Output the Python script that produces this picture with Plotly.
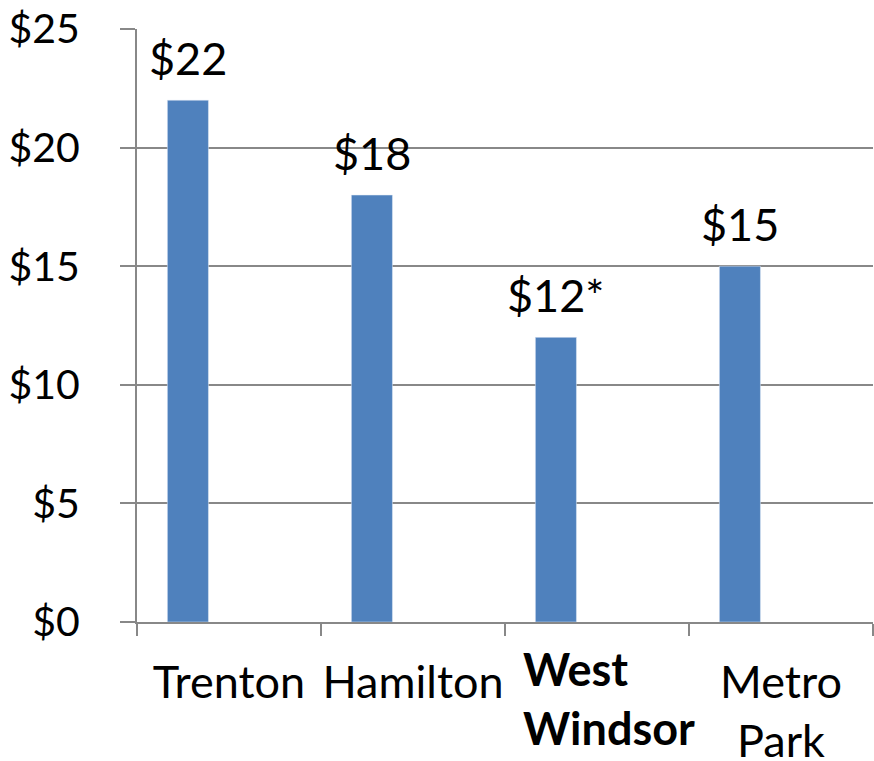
import plotly.graph_objects as go

categories = ["Trenton", "Hamilton", "West Windsor", "Metro Park"]
tick_labels = ["Trenton", "Hamilton", "West<br>Windsor", "Metro<br>Park"]
tick_bold = [False, False, True, False]
values = [22, 18, 12, 15]
label_suffix = ["", "", "*", ""]
y_ticks = [0, 5, 10, 15, 20, 25]

FONT = "Lato"
FS = 45
YFS = 41
GREY = "#888888"
BAR = "#4F81BD"
BARGAP = 0.33
N_GROUP = 3  # clustered layout with two empty companion series

bar_text = [f"${v}{s}" for v, s in zip(values, label_suffix)]
y_tick_text = [f"${v}" for v in y_ticks]

fig = go.Figure()
fig.add_trace(go.Bar(x=categories, y=values, marker_color=BAR,
                     cliponaxis=False, offsetgroup="a"))
for g in ["b", "c"]:
    fig.add_trace(go.Bar(x=categories, y=[None] * len(categories), offsetgroup=g,
                         marker_color=BAR, showlegend=False))

# data labels, centred over the first bar of each cluster
bar_w = (1 - BARGAP) / N_GROUP
for i, (v, t) in enumerate(zip(values, bar_text)):
    fig.add_annotation(x=i - bar_w, y=v, xref="x", yref="y", text=t,
                       showarrow=False, yanchor="bottom", yshift=13,
                       font=dict(family=FONT, size=FS, color="black"))

# category labels: plain ones as tick labels, the bold one as an annotation
ticktext = ["" if b else t for t, b in zip(tick_labels, tick_bold)]
for c, t, b in zip(categories, tick_labels, tick_bold):
    if b:
        bold = "<br>".join(f"<b>{p}</b>" for p in t.split("<br>"))
        fig.add_annotation(x=c, y=0, xref="x", yref="y", text=bold,
                           showarrow=False, yanchor="top", yshift=-18, xshift=12,
                           align="left",
                           font=dict(family=FONT, size=FS, color="black"))

fig.update_layout(
    width=874, height=761,
    margin=dict(l=137, r=1, t=29, b=139, autoexpand=False),
    paper_bgcolor="white", plot_bgcolor="white",
    barmode="group", bargap=BARGAP, bargroupgap=0,
    showlegend=False,
    font=dict(family=FONT, size=FS, color="black"),
)
fig.update_xaxes(
    type="category", tickmode="array", tickvals=categories, ticktext=ticktext,
    range=[-0.5, len(categories) - 0.5], tickangle=0,
    showline=True, linecolor=GREY, linewidth=2,
    ticks="outside", tickson="boundaries", ticklen=12, tickcolor=GREY, tickwidth=2,
    showgrid=False, ticklabelstandoff=20, automargin=False,
    ticklabeloverflow="allow",
    tickfont=dict(family=FONT, size=FS, color="black"),
)
fig.update_yaxes(
    range=[0, 25], tickmode="array", tickvals=y_ticks, ticktext=y_tick_text,
    showline=True, linecolor=GREY, linewidth=2,
    ticks="outside", ticklen=15, tickcolor=GREY, tickwidth=2,
    showgrid=True, gridcolor=GREY, gridwidth=2, zeroline=False,
    ticklabelstandoff=32, automargin=False,
    ticklabeloverflow="allow",
    tickfont=dict(family=FONT, size=YFS, color="black"),
)

fig.write_html(
    "out.html",
    config={"displayModeBar": False},
    post_script="document.body.style.margin='0';document.body.style.overflow='hidden';",
)
